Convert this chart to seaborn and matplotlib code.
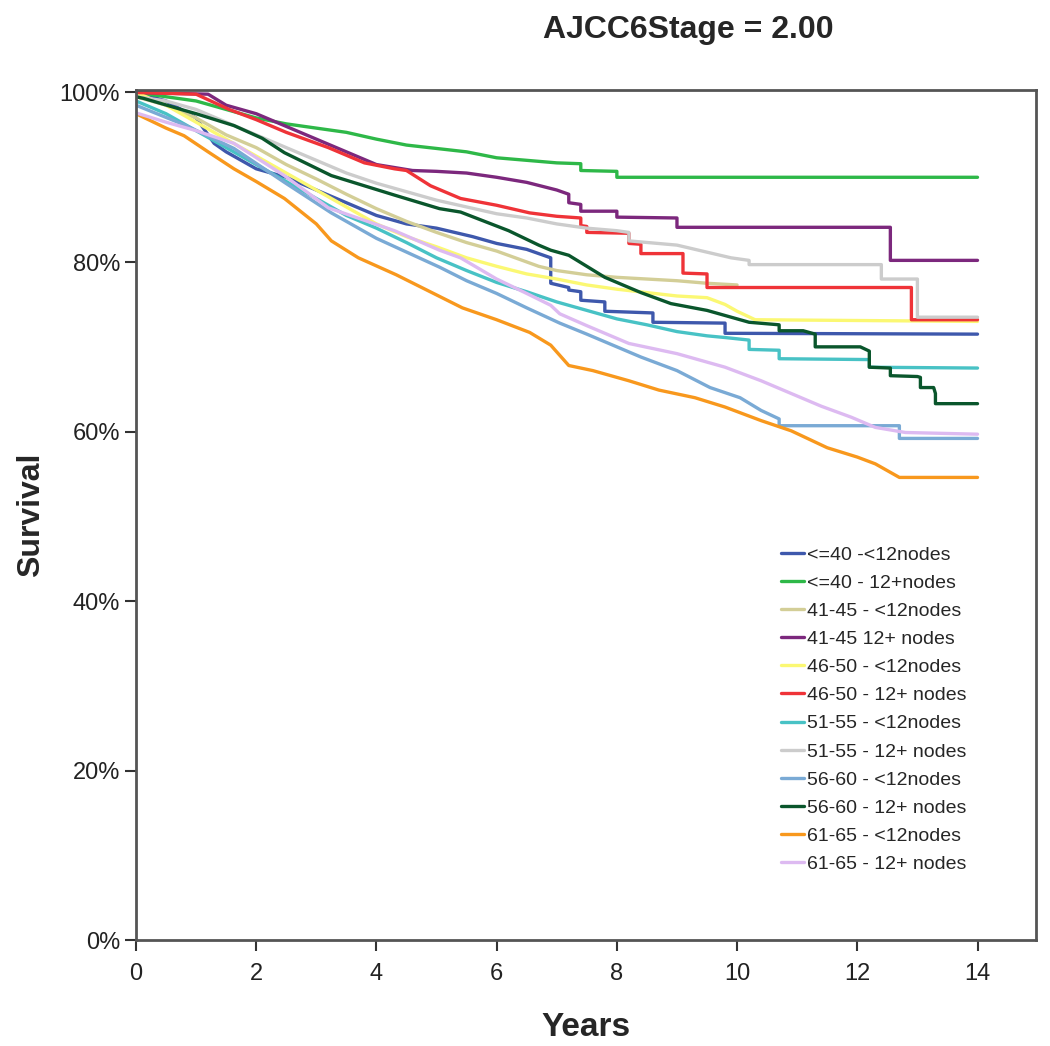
import pandas as pd
import seaborn as sns
import matplotlib.pyplot as plt

# nomes das curvas (ordem da legenda) e cores no estilo SPSS
groups = ['<=40 -<12nodes', '<=40 - 12+nodes', '41-45 - <12nodes', '41-45 12+ nodes',
          '46-50 - <12nodes', '46-50 - 12+ nodes', '51-55 - <12nodes', '51-55 - 12+ nodes',
          '56-60 - <12nodes', '56-60 - 12+ nodes', '61-65 - <12nodes', '61-65 - 12+ nodes']
colors = ['#3E58AC', '#2EB848', '#D3CE97', '#7C287D', '#FBF873', '#EF3338',
          '#48C2C5', '#CCCCCC', '#7AAAD5', '#0A562C', '#F8981D', '#DDBAF1']

# curvas de sobrevivência (anos, %)
le40_lt12_t = [0, 0.5, 1.0, 1.3, 1.5, 2.0, 2.5, 3.0, 3.5, 4.0, 4.5, 5.0, 5.6, 6.0, 6.5, 6.9, 6.9,
               7.2, 7.2, 7.4, 7.4, 7.8, 7.8, 8.6, 8.6, 9.8, 9.8, 14.0]
le40_lt12_s = [100, 99, 97, 94, 93, 91, 90, 88.5, 87, 85.5, 84.5, 84, 83, 82.2, 81.5, 80.5, 77.5,
               77, 76.7, 76.5, 75.5, 75.3, 74.2, 74, 72.9, 72.8, 71.6, 71.5]

le40_12p_t = [0, 0.5, 1.0, 1.5, 2.0, 2.5, 3.0, 3.5, 4.0, 4.5, 5.0, 5.5, 6.0, 6.5, 7.0, 7.4, 7.4,
              8.0, 8.0, 14.0]
le40_12p_s = [100, 99.5, 99, 98, 97.0, 96.3, 95.8, 95.3, 94.5, 93.8, 93.4, 93, 92.3, 92, 91.7, 91.6,
              90.8, 90.7, 90.0, 90.0]

a4145_lt12_t = [0, 0.5, 1, 1.5, 2, 2.5, 3, 3.5, 4, 4.5, 5, 5.5, 6, 6.7, 7, 7.5, 8, 8.5, 9, 9.5, 10]
a4145_lt12_s = [99.5, 98.5, 97, 95, 93.5, 91.5, 89.8, 88, 86.3, 84.8, 83.5, 82.3, 81.3, 79.5, 79,
                78.5, 78.2, 78, 77.8, 77.5, 77.3]

a4145_12p_t = [0, 1.2, 1.5, 2, 2.5, 3, 3.5, 4, 4.6, 5, 5.5, 6, 6.5, 7.0, 7.2, 7.2, 7.4, 7.4, 8.0,
               8.0, 9.0, 9.0, 12.55, 12.55, 14.0]
a4145_12p_s = [100, 99.8, 98.5, 97.5, 96, 94.5, 93, 91.5, 90.8, 90.7, 90.5, 90, 89.4, 88.5, 88.0,
               87, 86.8, 86, 86, 85.3, 85.2, 84.1, 84.1, 80.2, 80.2]

a4650_lt12_t = [0, 0.5, 1, 1.5, 2, 2.5, 3, 3.5, 4, 4.5, 5, 5.5, 6, 6.5, 7, 7.5, 8, 8.5, 9, 9.5,
                9.8, 10.0, 10.3, 14]
a4650_lt12_s = [100, 98.5, 96.5, 94.5, 92.5, 90.5, 88.5, 86.5, 84.5, 83, 81.8, 80.5, 79.5, 78.6,
                78, 77.3, 76.8, 76.4, 76, 75.8, 75, 74.2, 73.2, 73.0]

a4650_12p_t = [0, 1.0, 1.55, 2.0, 2.5, 3.2, 3.8, 4.3, 4.5, 4.9, 5.4, 6.0, 6.55, 7.0, 7.4, 7.4,
               7.5, 7.5, 8.2, 8.2, 8.4, 8.4, 9.1, 9.1, 9.5, 9.5, 12.9, 12.9, 14]
a4650_12p_s = [100, 99.8, 98, 96.8, 95.3, 93.5, 91.7, 91, 90.8, 89, 87.5, 86.7, 85.8, 85.4, 85.2,
               84.3, 84.2, 83.5, 83.4, 82.2, 82.1, 81, 81, 78.7, 78.6, 77, 77, 73.2, 73.2]

a5155_lt12_t = [0, 0.5, 1, 1.5, 2, 2.5, 3, 3.5, 4, 4.5, 5, 5.5, 6, 6.5, 7, 7.5, 8, 8.5, 9, 9.5,
                9.8, 10.2, 10.2, 10.7, 10.7, 12.2, 12.2, 14]
a5155_lt12_s = [99, 97.5, 95.5, 93.5, 91.5, 89.5, 87.5, 85.5, 84, 82.3, 80.5, 79, 77.6, 76.5,
                75.3, 74.3, 73.3, 72.6, 71.8, 71.3, 71.1, 70.8, 69.7, 69.6, 68.6, 68.5, 67.6, 67.5]

a5155_12p_t = [0, 0.5, 1, 1.5, 2, 2.5, 3, 3.5, 4, 4.5, 5, 5.5, 6, 6.5, 7, 7.5, 8, 8.2, 8.2, 9,
               9.9, 10.2, 10.2, 12.4, 12.4, 13.0, 13.0, 14]
a5155_12p_s = [99.5, 99, 98, 96.5, 95, 93.5, 92, 90.5, 89.3, 88.3, 87.3, 86.5, 85.7, 85.2, 84.5,
               84, 83.7, 83.5, 82.5, 82, 80.5, 80.2, 79.7, 79.7, 78, 78, 73.5, 73.5]

a5660_lt12_t = [0, 0.8, 1.63, 2.47, 3.25, 4.0, 5.05, 5.5, 6.0, 6.5, 7.05, 7.5, 8.4, 9.0, 9.55,
                10.05, 10.4, 10.7, 10.7, 12.7, 12.7, 14]
a5660_lt12_s = [98.5, 96.2, 93.4, 89.4, 85.8, 82.8, 79.4, 77.8, 76.3, 74.6, 72.8, 71.5, 68.8,
                67.2, 65.2, 64, 62.5, 61.5, 60.7, 60.7, 59.2, 59.2]

a5660_12p_t = [0, 0.13, 0.8, 1.0, 1.63, 2.1, 2.47, 3.25, 4.3, 5.05, 5.4, 6.2, 6.7, 6.9, 7.2, 7.8,
               8.4, 8.9, 9.5, 10.2, 10.7, 10.7, 11.1, 11.3, 11.3, 12.05, 12.2, 12.2, 12.55, 12.55,
               13.0, 13.05, 13.05, 13.27, 13.3, 13.3, 14]
a5660_12p_s = [99.5, 99.3, 97.9, 97.5, 96.1, 94.6, 92.9, 90.2, 87.9, 86.3, 85.9, 83.7, 82, 81.4,
               80.8, 78.2, 76.4, 75.1, 74.3, 72.9, 72.6, 71.9, 71.9, 71.5, 70, 70, 69.5, 67.6,
               67.5, 66.6, 66.5, 66.4, 65.2, 65.2, 64.5, 63.3, 63.3]

a6165_lt12_t = [0, 0.5, 0.8, 1.2, 1.63, 2.0, 2.47, 3.0, 3.25, 3.7, 4.33, 5.43, 6.0, 6.55, 6.9,
                7.2, 7.6, 8.2, 8.7, 9.3, 9.8, 10.4, 10.9, 11.5, 12.0, 12.3, 12.7, 14]
a6165_lt12_s = [97.5, 95.8, 94.9, 93, 91, 89.5, 87.5, 84.5, 82.5, 80.5, 78.5, 74.6, 73.2, 71.7,
                70.2, 67.8, 67.2, 66, 64.9, 64, 62.9, 61.3, 60.1, 58.1, 57, 56.2, 54.6, 54.6]

a6165_12p_t = [0, 0.5, 1, 1.63, 2.47, 3.2, 4.3, 5.05, 5.4, 6.0, 6.5, 6.9, 7.05, 7.5, 8.2, 9.0, 9.8,
               10.4, 10.9, 11.4, 11.9, 12.3, 12.8, 14]
a6165_12p_s = [97.6, 96.5, 95.5, 94, 90.2, 86.4, 83.7, 81.4, 80.5, 78, 76.3, 74.9, 73.9, 72.5,
               70.4, 69.2, 67.6, 66, 64.5, 63, 61.7, 60.5, 59.9, 59.7]

times = [le40_lt12_t, le40_12p_t, a4145_lt12_t, a4145_12p_t, a4650_lt12_t, a4650_12p_t,
         a5155_lt12_t, a5155_12p_t, a5660_lt12_t, a5660_12p_t, a6165_lt12_t, a6165_12p_t]
survs = [le40_lt12_s, le40_12p_s, a4145_lt12_s, a4145_12p_s, a4650_lt12_s, a4650_12p_s,
         a5155_lt12_s, a5155_12p_s, a5660_lt12_s, a5660_12p_s, a6165_lt12_s, a6165_12p_s]

frames = []
for g, t, s in zip(groups, times, survs):
    frames.append(pd.DataFrame({'Years': t, 'Survival': s, 'grupo': g}))
df = pd.concat(frames, ignore_index=True)

yticks = [0, 20, 40, 60, 80, 100]
ytick_labels = ['0%', '20%', '40%', '60%', '80%', '100%']
xticks = [0, 2, 4, 6, 8, 10, 12, 14]

sns.set_style('white')
plt.rcParams['font.family'] = ['Liberation Sans', 'DejaVu Sans']

fig = plt.figure(figsize=(10.5, 10.46), dpi=100)
ax = fig.add_axes([0.1295, 0.101, 0.857, 0.813])

sns.lineplot(data=df, x='Years', y='Survival', hue='grupo', hue_order=groups,
             palette=dict(zip(groups, colors)), estimator=None, sort=False, units='grupo',
             linewidth=2.4, ax=ax)

ax.set_xlim(0, 14.97)
ax.set_ylim(0, 100.3)
ax.set_xticks(xticks)
ax.set_yticks(yticks)
ax.set_yticklabels(ytick_labels)
ax.tick_params(axis='both', direction='out', length=8, width=1.5, color='#333',
               labelsize=17, labelcolor='#222', bottom=True, left=True)
ax.tick_params(axis='x', pad=8)
for side in ax.spines:
    ax.spines[side].set_color('#555')
    ax.spines[side].set_linewidth(2)

ax.set_xlabel('Years', fontsize=24, fontweight='bold', labelpad=20)
ax.set_ylabel('Survival', fontsize=23, fontweight='bold', labelpad=10)
fig.text(0.656, 0.971, 'AJCC6Stage = 2.00', ha='center', va='center', fontsize=23,
         fontweight='bold')

handles, labels = ax.get_legend_handles_labels()
ax.legend(handles, labels, loc='upper left', bbox_to_anchor=(0.706, 0.475), frameon=False,
          fontsize=14, handlelength=1.2, handletextpad=0.15, labelspacing=0.54,
          borderpad=0)

fig.savefig('out.png', dpi=100)
